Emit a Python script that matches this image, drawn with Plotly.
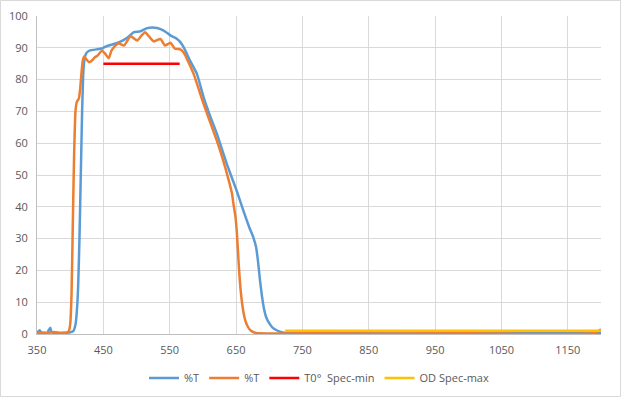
import plotly.graph_objects as go

# Series 1 (%T, blue)
blue_nm = [350, 354, 357, 365, 370, 372, 380, 390, 400, 405, 408, 410, 412, 414, 416, 418, 420, 422, 425, 430,
           440, 448, 455, 466, 474, 481, 488, 496, 506, 516, 524, 531, 541, 551, 561, 566, 571, 581, 591, 601,
           611, 621, 636, 651, 661, 670, 676, 680, 683, 686, 689, 692, 695, 699, 705, 712, 720, 727, 800, 1000, 1200]
blue_t = [0.3, 1.2, 0.3, 0.3, 2.0, 0.5, 0.3, 0.3, 0.5, 1, 3, 7, 15, 30, 50, 70, 83, 87, 88.5, 89.2,
          89.5, 89.8, 90.5, 91.2, 91.8, 92.5, 93.5, 94.9, 95.2, 96.2, 96.4, 96.2, 95.4, 93.9, 92.8, 91.8, 90.2, 85.8, 81.8, 74.5,
          68.5, 63, 53.5, 45, 38.8, 33.5, 30.4, 27.5, 23, 17, 12, 8, 5.5, 3.7, 2, 1.1, 0.5, 0.3, 0.2, 0.2, 0.3]

# Series 2 (%T, orange)
orange_nm = [350, 360, 365, 375, 385, 395, 398, 400, 402, 404, 406, 408, 410, 413, 415, 417, 419, 421, 424, 428,
             433, 437, 441, 448, 453, 458, 462, 466, 473, 481, 491, 501, 508, 513, 519, 526, 536, 543, 551, 558,
             566, 571, 576, 586, 601, 621, 630, 639, 644, 646, 649, 651, 654, 656, 658, 661, 664, 668, 672, 680,
             750, 1000, 1190, 1200]
orange_t = [0.3, 0.5, 0.3, 0.6, 0.4, 0.5, 1, 3, 12, 35, 57, 70, 73, 74, 77, 82, 86, 87.3, 86.5, 85.5,
            86, 87, 87.5, 89.1, 88.1, 86.7, 89, 90.2, 91.4, 90.7, 93.6, 92.3, 94, 94.9, 93.5, 92, 92.8, 90.7, 91.6, 89.7,
            89.5, 88.5, 86.5, 81.8, 72.4, 60.8, 55, 48.3, 44, 41, 37, 32.5, 22, 16, 11.6, 7, 4.2, 2.2, 1.1, 0.3,
            0.2, 0.2, 0.3, 1.5]

# T0° Spec-min (red)
spec_min_nm = [450, 565]
spec_min_t = [85, 85]

# OD Spec-max (yellow)
spec_max_nm = [724, 1200]
spec_max_t = [1, 1]

x_ticks = [350, 450, 550, 650, 750, 850, 950, 1050, 1150]
y_ticks = [0, 10, 20, 30, 40, 50, 60, 70, 80, 90, 100]

fig = go.Figure()
fig.add_trace(go.Scatter(x=blue_nm, y=blue_t, mode="lines", name="%T",
                         line=dict(color="#5B9BD5", width=2.5, shape="spline", smoothing=0.5)))
fig.add_trace(go.Scatter(x=orange_nm, y=orange_t, mode="lines", name="%T",
                         line=dict(color="#ED7D31", width=2.5, shape="spline", smoothing=0.5)))
fig.add_trace(go.Scatter(x=spec_min_nm, y=spec_min_t, mode="lines", name="T0°\u00a0\u00a0Spec-min",
                         line=dict(color="#FF0000", width=2.5)))
fig.add_trace(go.Scatter(x=spec_max_nm, y=spec_max_t, mode="lines", name="OD Spec-max",
                         line=dict(color="#FFC000", width=2.5)))

fig.update_layout(
    width=621, height=397,
    autosize=False,
    margin=dict(l=37, r=20, t=16, b=63, pad=0, autoexpand=False),
    paper_bgcolor="white", plot_bgcolor="white",
    font=dict(family="Open Sans, Noto Sans, sans-serif", size=11, color="#595959"),
    showlegend=True,
    legend=dict(orientation="h", x=0.5, xanchor="center", y=-0.138, yanchor="middle",
                font=dict(size=11, color="#595959"), itemwidth=30, tracegroupgap=0),
    xaxis=dict(range=[350, 1200], tickvals=x_ticks, showgrid=True, gridcolor="#D9D9D9", gridwidth=1,
               showline=True, linecolor="#BFBFBF", linewidth=1, zeroline=False, ticks="",
               ticklabelstandoff=6, automargin=False),
    yaxis=dict(range=[0, 100], tickvals=y_ticks, showgrid=True, gridcolor="#D9D9D9", gridwidth=1,
               showline=True, linecolor="#BFBFBF", linewidth=1, zeroline=False, ticks="",
               ticklabelstandoff=6, automargin=False),
    shapes=[dict(type="rect", xref="paper", yref="paper",
                 x0=-0.0647, x1=1.0346, y0=-0.1965, y1=1.0487,
                 line=dict(color="#D9D9D9", width=1), fillcolor="rgba(0,0,0,0)", layer="below")],
)

fig.write_html("out.html", config={"displayModeBar": False},
               post_script="document.body.style.margin='0';document.body.style.padding='0';")
